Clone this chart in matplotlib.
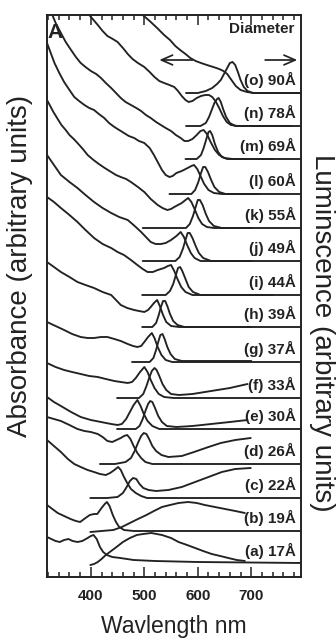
import matplotlib
matplotlib.use("Agg")
import matplotlib.pyplot as plt
from matplotlib.ticker import MultipleLocator, FixedLocator

plt.rcParams['font.family'] = ['Liberation Sans', 'DejaVu Sans']

# ---------------- data (wavelength nm, stacked signal in arbitrary units) ----------------
LABELS = ['(a) 17Å', '(b) 19Å', '(c) 22Å', '(d) 26Å', '(e) 30Å', '(f) 33Å', '(g) 37Å',
          '(h) 39Å', '(i) 44Å', '(j) 49Å', '(k) 55Å', '(l) 60Å', '(m) 69Å', '(n) 78Å', '(o) 90Å']
BASELINES = [13, 46, 79, 113, 148, 179, 215, 250, 282, 316, 349, 383, 418, 451, 484]

ABS_A = [(318,40),(326,38),(334,36),(342,35),(350,37),(358,38),(366,36),(375,35),(384,36),(394,39),(400,41),(405,42),(411,38),(417,30),(423,25),(430,22),(440,20),(455,19),(480,17),(520,16),(600,15),(793,14)]
ABS_B = [(318,72),(328,68),(338,64),(350,61),(362,58),(372,56),(380,55),(390,59),(398,62),(406,63),(412,63),(420,69),(426,73),(430,75),(435,71),(441,62),(447,55),(453,50),(462,47),(480,46),(793,46)]
ABS_C = [(318,137),(331,131),(344,125),(357,118),(369,113),(381,110),(394,107),(406,105),(417,103),(428,102),(436,104),(444,107),(451,110),(456,107),(462,100),(468,94),(475,88),(484,84),(494,81),(505,79),(793,79)]
ABS_D = [(318,160),(331,158),(344,156),(360,152),(375,148),(388,146),(400,145),(413,143),(422,140),(431,136),(440,135),(448,137),(456,139),(462,141),(468,142),(474,138),(480,131),(487,124),(494,119),(502,115),(515,113),(793,113)]
ABS_E = [(318,180),(331,175),(344,171),(363,165),(381,160),(400,157),(419,155),(438,153),(450,152),(458,153),(466,158),(473,165),(480,172),(487,177),(493,171),(499,163),(506,156),(515,151),(528,148),(793,148)]
ABS_F = [(318,214),(334,210),(350,207),(365,205),(381,203),(397,201),(413,200),(428,198),(444,196),(456,195),(469,194),(477,195),(484,199),(492,205),(500,210),(506,205),(512,197),(519,189),(527,183),(537,180),(555,179),(793,179)]
ABS_G = [(318,255),(334,251),(350,247),(365,243),(381,240),(394,239),(406,239),(419,240),(431,240),(444,238),(456,236),(469,233),(479,231),(487,230),(494,231),(500,235),(507,240),(514,244),(519,239),(525,230),(532,222),(540,217),(552,215),(793,215)]
ABS_H = [(318,315),(331,310),(344,305),(360,300),(375,295),(390,292),(406,289),(422,285),(438,282),(447,277),(456,272),(468,269),(481,267),(490,266),(500,265),(507,267),(512,270),(518,274),(524,277),(529,271),(535,262),(541,255),(550,251),(565,250),(793,250)]
ABS_I = [(318,380),(331,375),(344,369),(360,362),(375,355),(390,347),(406,339),(422,333),(438,329),(450,325),(462,322),(475,317),(487,312),(497,308),(506,305),(516,305),(525,307),(537,309),(544,311),(550,312),(556,306),(562,298),(569,290),(577,285),(590,282),(793,282)]
ABS_J = [(318,422),(331,412),(344,402),(360,395),(375,389),(390,382),(406,375),(422,369),(438,364),(453,360),(469,357),(482,351),(494,345),(503,340),(512,335),(521,333),(531,333),(540,334),(550,337),(560,341),(568,345),(574,340),(580,332),(587,324),(594,319),(605,316),(793,316)]
ABS_K = [(318,477),(324,471),(330,465),(338,458),(345,452),(353,447),(360,442),(368,438),(375,434),(385,428),(394,422),(405,417),(415,413),(426,409),(438,405),(447,402),(456,400),(466,398),(475,395),(488,390),(500,385),(512,378),(525,372),(534,369),(543,367),(550,368),(556,370),(563,372),(570,374),(577,377),(582,379),(588,375),(594,368),(601,359),(608,353),(617,350),(630,349),(793,349)]
ABS_L = [(318,534),(325,524),(332,514),(341,504),(350,495),(360,487),(369,480),(378,476),(388,472),(397,469),(406,467),(415,463),(425,459),(434,454),(444,450),(453,447),(462,444),(471,441),(481,439),(490,436),(500,434),(510,429),(518,422),(526,414),(533,407),(540,402),(547,400),(553,401),(560,404),(570,406),(581,409),(588,411),(593,412),(599,408),(605,401),(612,393),(620,387),(630,384),(645,383),(793,383)]
ABS_M = [(328,562),(335,553),(344,544),(353,535),(363,527),(372,520),(381,514),(390,510),(400,506),(410,503),(419,499),(428,494),(438,489),(447,484),(456,479),(465,475),(475,472),(485,469),(494,466),(503,462),(512,459),(522,455),(531,452),(540,449),(550,446),(559,442),(568,439),(575,436),(582,436),(590,438),(598,442),(605,446),(611,447),(617,443),(624,435),(632,427),(640,422),(650,419),(665,418),(793,418)]
ABS_N = [(397,562),(405,557),(413,552),(422,546),(431,541),(441,538),(450,535),(460,529),(469,523),(478,518),(488,514),(500,510),(510,505),(519,500),(528,496),(537,494),(547,492),(556,490),(563,486),(570,481),(577,477),(583,475),(590,476),(598,479),(606,481),(614,482),(621,482),(627,480),(633,476),(640,469),(647,461),(654,455),(662,452),(675,451),(793,451)]
ABS_O = [(497,562),(510,556),(524,549),(537,542),(548,537),(558,531),(567,527),(577,523),(586,519),(596,516),(606,514),(617,512),(629,510),(640,508),(648,506),(655,503),(663,497),(671,491),(680,487),(692,485),(705,484),(793,484)]

LUM_A = [(399,12),(406,13),(413,15),(420,18),(428,22),(438,26),(448,30),(460,35),(473,39),(486,42),(498,43),(513,44),(533,42),(550,39),(564,35),(580,32),(595,29),(610,26),(626,23),(642,21),(657,19),(673,17),(688,16)]
LUM_B = [(399,45),(420,46),(442,47),(458,50),(473,54),(488,58),(504,62),(518,66),(533,70),(548,72),(564,74),(582,75),(598,74),(613,72),(632,70),(651,68),(670,66),(688,64)]
LUM_C = [(399,79),(430,79),(450,80),(460,84),(467,90),(473,96),(479,99),(485,98),(491,93),(498,89),(508,87),(522,86),(545,87),(570,90),(595,95),(620,100),(645,105),(670,108),(699,109)]
LUM_D = [(417,113),(445,113),(465,115),(475,119),(482,126),(488,134),(494,141),(499,144),(504,143),(509,138),(515,131),(522,126),(532,122),(545,120),(570,121),(593,125),(620,130),(643,134),(670,137),(699,139)]
LUM_E = [(449,148),(484,148),(491,151),(497,158),(502,166),(507,173),(511,176),(515,175),(520,169),(526,161),(533,155),(542,151),(560,150),(590,151),(625,153),(660,155),(693,157)]
LUM_F = [(449,179),(490,179),(498,183),(504,191),(509,199),(514,206),(519,209),(523,207),(528,201),(534,193),(541,187),(550,183),(565,182),(590,183),(625,186),(660,189),(693,193)]
LUM_G = [(477,215),(510,215),(517,219),(522,227),(526,235),(530,242),(534,243),(538,238),(543,230),(549,223),(557,218),(570,216),(700,216)]
LUM_H = [(496,250),(515,250),(522,254),(527,262),(531,270),(535,276),(539,276),(543,271),(548,263),(554,256),(562,252),(575,250),(700,250)]
LUM_I = [(496,282),(540,282),(548,286),(554,293),(559,302),(563,309),(567,310),(571,306),(577,298),(583,290),(591,285),(605,282),(740,282)]
LUM_J = [(497,316),(558,316),(566,320),(572,328),(577,337),(581,344),(585,344),(590,339),(596,331),(602,324),(610,319),(625,316),(700,316)]
LUM_K = [(497,349),(578,349),(585,353),(591,361),(596,370),(600,377),(604,377),(609,372),(615,363),(621,356),(630,351),(645,349),(700,349)]
LUM_L = [(547,383),(588,383),(595,387),(601,395),(606,404),(610,410),(614,410),(619,405),(625,397),(631,390),(640,385),(652,383),(714,383)]
LUM_M = [(577,418),(598,418),(606,422),(611,429),(616,438),(620,445),(623,446),(627,442),(632,433),(638,425),(645,420),(655,418),(740,418)]
LUM_N = [(578,451),(605,451),(615,454),(621,460),(626,467),(631,474),(636,478),(639,479),(643,475),(648,467),(653,460),(660,454),(670,451),(774,451)]
LUM_O = [(578,484),(600,484),(615,486),(627,489),(636,493),(643,497),(649,503),(655,509),(660,514),(665,515),(670,512),(675,505),(680,497),(686,490),(693,486),(703,484),(793,484)]

ABSORBANCE = [ABS_A, ABS_B, ABS_C, ABS_D, ABS_E, ABS_F, ABS_G, ABS_H, ABS_I, ABS_J, ABS_K, ABS_L, ABS_M, ABS_N, ABS_O]
LUMINESCENCE = [LUM_A, LUM_B, LUM_C, LUM_D, LUM_E, LUM_F, LUM_G, LUM_H, LUM_I, LUM_J, LUM_K, LUM_L, LUM_M, LUM_N, LUM_O]

XTICKS = [400, 500, 600, 700]

# ---------------- figure ----------------
INK = '#222222'
fig = plt.figure(figsize=(3.36, 6.4), dpi=100)
ax = fig.add_axes([47/336, 63/640, 254/336, 562/640])

for curve in ABSORBANCE + LUMINESCENCE:
    xs = [p[0] for p in curve]
    ys = [p[1] for p in curve]
    ax.plot(xs, ys, color=INK, lw=1.35, solid_joinstyle='round', solid_capstyle='round')

for lab, base in zip(LABELS, BASELINES):
    ax.text(783, base + 13, lab, ha='right', va='center', fontsize=11,
            fontweight='bold', color=INK)

ax.text(781, 548, 'Diameter', ha='right', va='center', fontsize=11,
        fontweight='bold', color=INK)
ax.text(319, 545, 'A', ha='left', va='center', fontsize=15, fontweight='bold', color=INK)

arrow = dict(arrowstyle='->, head_length=0.8, head_width=0.35', lw=1.25, color=INK,
             shrinkA=0, shrinkB=0)
ax.annotate('', xy=(528, 517), xytext=(590, 517), arrowprops=arrow)
ax.annotate('', xy=(786, 517), xytext=(726, 517), arrowprops=arrow)

ax.set_xlim(318, 793)
ax.set_ylim(0, 562)
ax.xaxis.set_major_locator(FixedLocator(XTICKS))
ax.xaxis.set_minor_locator(MultipleLocator(20))
ax.set_yticks([])
ax.tick_params(axis='x', which='both', direction='in', top=True, bottom=True,
               color=INK, width=1.1, labelsize=11, labelcolor=INK, pad=9)
ax.tick_params(axis='x', which='major', length=7)
ax.tick_params(axis='x', which='minor', length=3.5)
for t in ax.get_xticklabels():
    t.set_fontweight('bold')
for s in ax.spines.values():
    s.set_linewidth(1.4)
    s.set_color(INK)

fig.text(20/336, 1 - 266/640, 'Absorbance (arbitrary units)', rotation=90,
         ha='center', va='center', fontsize=20, color=INK)
fig.text(322/336, 1 - 333/640, 'Luminscence (arbitrary units)', rotation=270,
         ha='center', va='center', fontsize=20, color=INK)
fig.text(174/336, 1 - 627/640, 'Wavlength nm', ha='center', va='center',
         fontsize=16.5, color=INK)

fig.savefig('out.png', dpi=100)
